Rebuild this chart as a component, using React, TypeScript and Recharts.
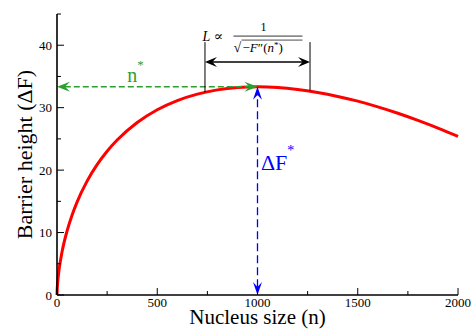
import { LineChart, Line, XAxis, YAxis, ReferenceLine, ReferenceDot, Label } from 'recharts';

// nucleus size (n) and barrier height
const sizes = [0, 1, 2, 5, 10, 25, 50, 75, 100, 150, 200, 250, 300, 400, 500, 600, 700, 800, 900, 1000, 1100, 1200, 1300, 1400, 1500, 1600, 1700, 1800, 1900, 2000];
const barrier = [0, 0.93, 1.45, 2.59, 3.98, 6.88, 10.24, 12.78, 14.88, 18.23, 20.87, 23.02, 24.81, 27.62, 29.67, 31.14, 32.17, 32.85, 33.22, 33.33, 33.23, 32.92, 32.43, 31.8, 31.04, 30.13, 29.11, 27.97, 26.74, 25.41];

const xTicks = [0, 250, 500, 750, 1000, 1250, 1500, 1750, 2000];
const xLabels = [0, 500, 1000, 1500, 2000];
const yTicks = [0, 5, 10, 15, 20, 25, 30, 35, 40, 45];
const yLabels = [0, 10, 20, 30, 40];

const nStar = 1000;
const dFStar = 33.33;
const widthLeft = 738;
const widthRight = 1262;
const widthArrowY = 37.3;
const widthBarTop = 40.5;
const widthBarBottomL = 32.5;
const widthBarBottomR = 32.7;

const data = sizes.map((n, i) => ({ n, dF: barrier[i] }));

const FONT = '"Liberation Serif", "Times New Roman", "DejaVu Serif", serif';
const serif = { fontFamily: FONT };
const GREEN = '#2e9e2e';
const BLUE = '#0000ff';

function head(tx: number, ty: number, dx: number, dy: number, len: number, half: number, color: string) {
  const bx = tx - dx * len;
  const by = ty - dy * len;
  const nx = tx - dx * len * 0.62;
  const ny = ty - dy * len * 0.62;
  const px = -dy * half;
  const py = dx * half;
  const pts = `${tx},${ty} ${bx + px},${by + py} ${nx},${ny} ${bx - px},${by - py}`;
  return <polygon points={pts} fill={color} stroke="none" />;
}

function arrowShape(color: string, dash: string | undefined, sw: number, len: number, half: number) {
  return (p: any) => {
    const { x1, y1, x2, y2 } = p;
    const L = Math.hypot(x2 - x1, y2 - y1) || 1;
    const dx = (x2 - x1) / L;
    const dy = (y2 - y1) / L;
    return (
      <g>
        <line x1={x1 + dx * len * 0.6} y1={y1 + dy * len * 0.6} x2={x2 - dx * len * 0.6} y2={y2 - dy * len * 0.6}
          stroke={color} strokeWidth={sw} strokeDasharray={dash} />
        {head(x1, y1, -dx, -dy, len, half, color)}
        {head(x2, y2, dx, dy, len, half, color)}
      </g>
    );
  };
}

const plainLine = (color: string, sw: number) => (p: any) => (
  <line x1={p.x1} y1={p.y1} x2={p.x2} y2={p.y2} stroke={color} strokeWidth={sw} />
);

const BottomTick = (p: any) => {
  const v = p.payload.value;
  const major = xLabels.includes(v);
  return (
    <g>
      <line x1={p.x} y1={p.y} x2={p.x} y2={p.y - (major ? 7 : 4)} stroke="#000" strokeWidth={1} />
      {major && (
        <text x={p.x} y={p.y + 12} textAnchor="middle" fontSize={13} style={serif} fill="#000">{v}</text>
      )}
    </g>
  );
};

const TopTick = (p: any) => {
  const major = xLabels.includes(p.payload.value);
  return <line x1={p.x} y1={p.y} x2={p.x} y2={p.y + (major ? 7 : 4)} stroke="#000" strokeWidth={1} />;
};

const LeftTick = (p: any) => {
  const v = p.payload.value;
  const major = yLabels.includes(v);
  return (
    <g>
      <line x1={p.x} y1={p.y} x2={p.x + (major ? 7 : 4)} y2={p.y} stroke="#000" strokeWidth={1} />
      {major && (
        <text x={p.x - 5} y={p.y + 4.5} textAnchor="end" fontSize={13} style={serif} fill="#000">{v}</text>
      )}
    </g>
  );
};

const RightTick = (p: any) => {
  const major = yLabels.includes(p.payload.value);
  return <line x1={p.x} y1={p.y} x2={p.x - (major ? 7 : 4)} y2={p.y} stroke="#000" strokeWidth={1} />;
};

const NStarLabel = (p: any) => (
  <text x={p.cx} y={p.cy} fontSize={20} style={serif} fill={GREEN}>
    n<tspan dy={-13} fontSize={13}>*</tspan>
  </text>
);

const DFStarLabel = (p: any) => (
  <text x={p.cx} y={p.cy} fontSize={22} style={serif} fill={BLUE}>
    ΔF<tspan dy={-15} fontSize={14}>*</tspan>
  </text>
);

const WidthLabel = (p: any) => {
  const cx = p.cx;
  const cy = p.cy;
  return (
    <g style={serif} fill="#000">
      <text x={cx - 55} y={cy - 21} fontSize={14}>
        <tspan fontStyle="italic">L</tspan> ∝
      </text>
      <text x={cx + 6} y={cy - 31} fontSize={12} textAnchor="middle">1</text>
      <line x1={cx - 24} y1={cy - 26} x2={cx + 45} y2={cy - 26} stroke="#000" strokeWidth={0.8} />
      <text x={cx - 24} y={cy - 10} fontSize={14}>√</text>
      <line x1={cx - 16} y1={cy - 22} x2={cx + 45} y2={cy - 22} stroke="#000" strokeWidth={0.7} />
      <text x={cx - 15} y={cy - 10} fontSize={13}>
        −<tspan fontStyle="italic">F</tspan>″(<tspan fontStyle="italic">n</tspan>
        <tspan dy={-4} fontSize={9}>*</tspan>
        <tspan dy={4}>)</tspan>
      </text>
    </g>
  );
};

export default function App() {
  return (
    <div style={{ position: 'absolute', left: 0, top: 0, width: 471, height: 329, background: '#fff' }}>
      <LineChart width={471} height={329} data={data} margin={{ top: 14, right: 13, left: 0, bottom: 0 }}>
        <XAxis dataKey="n" type="number" domain={[0, 2000]} ticks={xTicks} interval={0} height={34}
          tickSize={0} tickMargin={0} tick={BottomTick} tickLine={false}
          axisLine={{ stroke: '#000', strokeWidth: 1.6 }}>
          <Label content={(p: any) => (
            <text x={p.viewBox.x + p.viewBox.width / 2} y={p.viewBox.y + 29} textAnchor="middle"
              fontSize={21} style={serif} fill="#000">Nucleus size (n)</text>
          )} />
        </XAxis>
        <XAxis xAxisId="top" orientation="top" dataKey="n" type="number" domain={[0, 2000]} ticks={xTicks}
          interval={0} height={0} tickSize={0} tickMargin={0} tick={TopTick} tickLine={false}
          axisLine={{ stroke: '#000', strokeWidth: 1.6 }} />
        <YAxis type="number" domain={[0, 45]} ticks={yTicks} interval={0} width={57}
          tickSize={0} tickMargin={0} tick={LeftTick} tickLine={false}
          axisLine={{ stroke: '#000', strokeWidth: 1.6 }}>
          <Label content={(p: any) => {
            const x = 32;
            const y = p.viewBox.y + p.viewBox.height / 2;
            return (
              <text x={x} y={y} transform={`rotate(-90 ${x} ${y})`} textAnchor="middle"
                fontSize={22} style={serif} fill="#000">Barrier height (ΔF)</text>
            );
          }} />
        </YAxis>
        <YAxis yAxisId="right" orientation="right" type="number" domain={[0, 45]} ticks={yTicks} interval={0}
          width={0} tickSize={0} tickMargin={0} tick={RightTick} tickLine={false}
          axisLine={{ stroke: '#000', strokeWidth: 1.6 }} />

        <Line dataKey="dF" type="monotone" stroke="#ff0000" strokeWidth={3} dot={false} isAnimationActive={false} />

        <ReferenceLine segment={[{ x: 0, y: dFStar }, { x: nStar, y: dFStar }]}
          shape={arrowShape(GREEN, '6 3', 1.5, 13, 5)} />
        <ReferenceLine segment={[{ x: nStar, y: 0 }, { x: nStar, y: dFStar }]}
          shape={arrowShape(BLUE, '8 4', 1.3, 13, 4.5)} />
        <ReferenceLine segment={[{ x: widthLeft, y: widthBarBottomL }, { x: widthLeft, y: widthBarTop }]}
          shape={plainLine('#000', 1)} />
        <ReferenceLine segment={[{ x: widthRight, y: widthBarBottomR }, { x: widthRight, y: widthBarTop }]}
          shape={plainLine('#000', 1)} />
        <ReferenceLine segment={[{ x: widthLeft, y: widthArrowY }, { x: widthRight, y: widthArrowY }]}
          shape={arrowShape('#000', undefined, 1.5, 12, 5)} />

        <ReferenceDot x={350} y={34.1} r={0} shape={NStarLabel} />
        <ReferenceDot x={1017} y={20} r={0} shape={DFStarLabel} />
        <ReferenceDot x={nStar} y={widthArrowY} r={0} shape={WidthLabel} />
      </LineChart>
    </div>
  );
}
